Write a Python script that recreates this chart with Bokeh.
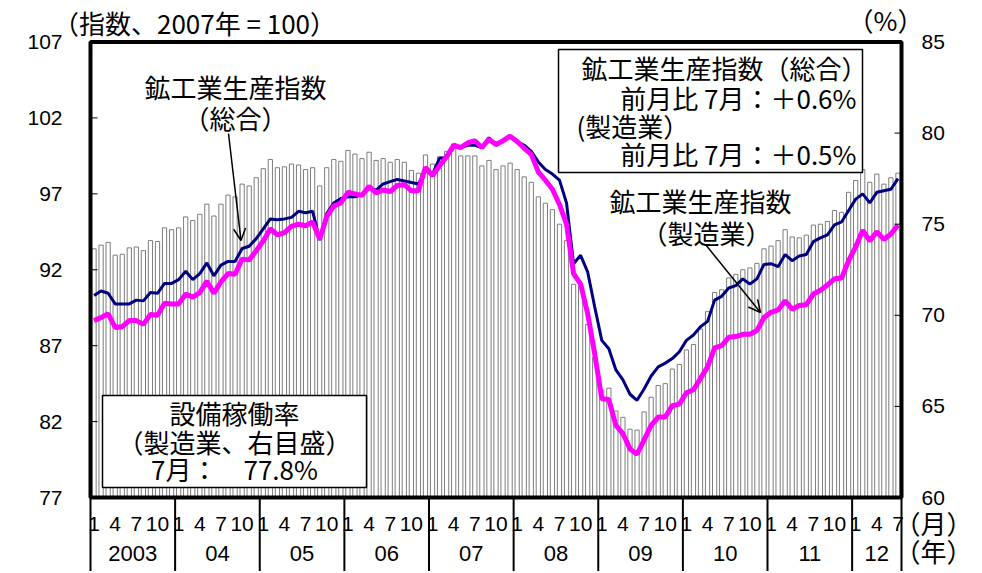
from bokeh.plotting import figure
from bokeh.models import Range1d, Label, BoxAnnotation, Arrow, OpenHead
from bokeh.core.properties import value
from bokeh.embed import file_html
from bokeh.resources import INLINE

# ---------------- data ----------------
year_labels = ["2003", "04", "05", "06", "07", "08", "09", "10", "11", "12"]
month_labels = ["1", "4", "7", "10"]

# 鉱工業生産指数（総合） 2007=100, monthly 2003/1 - 2012/7
total_index = [
    90.3, 90.6, 90.45, 89.75, 89.75, 89.75, 90.0, 89.95, 90.5, 90.45, 91.1, 91.1,
    91.35, 91.9, 91.35, 91.75, 92.45, 91.6, 92.3, 92.55, 92.55, 93.4, 93.55, 94.05,
    94.7, 95.35, 95.3, 95.35, 95.45, 95.85, 95.75, 95.85, 93.95, 95.7, 96.4, 96.7,
    96.8, 96.8, 96.95, 97.35, 97.25, 97.65, 97.8, 97.95, 97.85, 97.75, 97.65, 98.55,
    98.3, 99.35, 99.4, 100.05, 100.05, 100.2, 100.2, 100.05, 100.7, 100.2, 100.5, 100.8,
    100.45, 100.2, 99.8, 99.1, 98.6, 98.3, 97.9, 96.4, 92.4, 92.95, 91.85, 89.55,
    87.35, 86.8, 85.4, 84.75, 83.8, 83.4, 84.15, 85.0, 85.6, 85.85, 86.15, 86.6,
    87.35, 87.7, 88.25, 88.6, 90.0, 90.25, 90.8, 90.95, 91.4, 91.05, 91.4, 92.35,
    92.4, 92.2, 93.0, 92.6, 92.9, 93.0, 93.85, 94.1, 94.3, 94.95, 95.15, 95.9,
    96.65, 97.0, 96.4, 97.1, 97.2, 97.3, 98.0,
]

# 鉱工業生産指数（製造業）
mfg_index = [
    88.65, 88.85, 89.1, 88.2, 88.25, 88.65, 88.65, 88.4, 89.05, 89.0, 89.8, 89.75,
    89.75, 90.4, 90.2, 90.5, 91.25, 90.45, 91.2, 91.75, 91.7, 92.7, 92.65, 93.25,
    93.9, 94.7, 94.3, 94.45, 94.85, 95.0, 94.9, 95.15, 94.0, 95.5, 96.2, 96.4,
    97.1, 97.0, 96.9, 97.5, 97.05, 97.25, 97.15, 97.55, 97.6, 97.2, 97.2, 98.75,
    98.2, 98.85, 99.45, 100.2, 100.05, 100.35, 100.5, 100.05, 100.6, 100.25, 100.5, 100.8,
    100.45, 100.0, 99.6, 98.45, 97.9, 97.3, 96.3, 95.0, 91.75, 91.05, 89.1, 86.45,
    83.5, 83.45, 81.75, 81.2, 80.2, 79.85, 80.8, 81.75, 82.3, 82.3, 83.05, 83.15,
    83.9, 84.1, 84.85, 85.6, 86.85, 87.0, 87.55, 87.6, 87.75, 87.75, 88.0, 88.85,
    89.2, 89.35, 89.95, 89.4, 89.65, 89.7, 90.4, 90.65, 91.0, 91.4, 91.45, 92.6,
    93.5, 94.6, 93.9, 94.5, 94.0, 94.35, 94.95,
]

# 設備稼働率（製造業、%）
utilization = [
    73.65, 73.85, 74.0, 73.3, 73.35, 73.7, 73.75, 73.55, 74.1, 74.05, 74.8, 74.7,
    74.8, 75.4, 75.2, 75.55, 76.1, 75.45, 76.1, 76.6, 76.5, 77.2, 77.1, 77.55,
    78.05, 78.55, 78.1, 78.15, 78.3, 78.25, 78.0, 78.1, 77.1, 78.1, 78.55, 78.45,
    79.05, 78.85, 78.6, 78.95, 78.5, 78.6, 78.4, 78.55, 78.4, 77.95, 77.8, 78.8,
    78.3, 78.7, 79.0, 79.4, 78.75, 78.75, 78.75, 78.2, 78.5, 78.0, 78.2, 78.35,
    78.0, 77.6, 77.3, 76.5, 76.15, 75.8, 75.0, 74.1, 71.7, 71.6, 69.5, 67.7,
    65.9, 66.0, 64.75, 64.4, 63.75, 63.7, 64.7, 65.5, 66.15, 66.25, 67.05, 67.3,
    68.1, 68.4, 69.25, 70.2, 71.25, 71.4, 72.05, 72.25, 72.5, 72.6, 72.85, 73.65,
    73.8, 74.1, 74.7, 74.3, 74.25, 74.4, 74.95, 75.0, 75.15, 75.75, 75.65, 76.75,
    77.4, 78.0, 77.3, 77.75, 77.2, 77.55, 77.8,
]

left_ticks = [77, 82, 87, 92, 97, 102, 107]
right_ticks = [60, 65, 70, 75, 80, 85]

# ---------------- layout constants (canvas pixels) ----------------
W, H = 980, 571
BOX_L, BOX_R, BOX_T, BOX_B = 90.0, 901.0, 41.5, 497.0

n = len(total_index)
idx = list(range(n))
x0, x1 = -0.5, n - 0.5
yl0, yl1 = left_ticks[0], left_ticks[-1]
yr0, yr1 = right_ticks[0], right_ticks[-1]

px = (BOX_R - BOX_L) / (x1 - x0)        # pixels per month
py = (BOX_B - BOX_T) / (yl1 - yl0)      # pixels per left unit
pr = (BOX_B - BOX_T) / (yr1 - yr0)      # pixels per right unit

x_range = Range1d(x0 - BOX_L / px, x1 + (W - BOX_R) / px)
y_range = Range1d(yl0 - (H - BOX_B) / py, yl1 + BOX_T / py)
r_range = Range1d(yr0 - (H - BOX_B) / pr, yr1 + BOX_T / pr)

def dx(pix):   # pixel distance -> months
    return pix / px

def dy(pix):   # pixel distance -> left units
    return pix / py

def X(pix):    # canvas x pixel -> month coordinate
    return x0 + (pix - BOX_L) / px

def Y(pix):    # canvas y pixel -> left-scale value
    return yl1 - (pix - BOX_T) / py

# tick positions
month_ticks, month_text = [], []
for y in range(len(year_labels)):
    for m in month_labels:
        pos = 12 * y + int(m) - 1
        if pos < n:
            month_ticks.append(pos)
            month_text.append(m)

year_centers = [(12 * y + min(12 * y + 11, n - 1)) / 2 for y in range(len(year_labels))]
year_bounds = [12 * y - 0.5 for y in range(len(year_labels))] + [n - 0.5]

NUM_FONT = value("Liberation Sans")
JP = "Noto Sans CJK JP"

# ---------------- figure ----------------
p = figure(width=W, height=H, output_backend="svg", toolbar_location=None,
           x_range=x_range, y_range=y_range,
           x_axis_type=None, y_axis_type=None,
           min_border=0, min_border_left=0, min_border_right=0,
           min_border_top=0, min_border_bottom=0)
p.extra_y_ranges = {"right": r_range}
p.outline_line_color = None
p.background_fill_color = "white"
p.border_fill_color = "white"
p.xgrid.visible = False
p.ygrid.visible = False

# bars: utilization (right scale)
p.vbar(x=idx, top=utilization, bottom=yr0, width=0.6,
       y_range_name="right", fill_color="white", line_color="#7d7d7d",
       line_width=1)

# lines
p.line(idx, total_index, line_color="#000080", line_width=3)
p.line(idx, mfg_index, line_color="#FF00FF", line_width=5)

# axis ticks (inward)
p.segment(x0=[x0] * len(left_ticks), x1=[x0 + dx(7)] * len(left_ticks),
          y0=left_ticks, y1=left_ticks, line_color="black", line_width=1)
p.segment(x0=[x1 - dx(7)] * len(right_ticks), x1=[x1] * len(right_ticks),
          y0=right_ticks, y1=right_ticks, y_range_name="right",
          line_color="black", line_width=1)

# axis tick labels
p.text(x=[x0 - dx(28)] * len(left_ticks), y=left_ticks,
       text=[str(t) for t in left_ticks], text_font=NUM_FONT,
       text_font_size="21px", text_align="right", text_baseline="middle",
       text_color="black")
p.text(x=[x1 + dx(20)] * len(right_ticks), y=right_ticks,
       text=[str(t) for t in right_ticks], text_font=NUM_FONT,
       text_font_size="21px", text_align="left", text_baseline="middle",
       text_color="black", y_range_name="right")
p.text(x=month_ticks, y=[yl0 - dy(26)] * len(month_ticks), text=month_text,
       text_font=NUM_FONT, text_font_size="21px", text_align="center",
       text_baseline="middle", text_color="black")
p.text(x=year_centers, y=[yl0 - dy(56)] * len(year_centers), text=year_labels,
       text_font=NUM_FONT, text_font_size="22px", text_align="center",
       text_baseline="middle", text_color="black")

# year separators below the plot box
p.segment(x0=year_bounds, x1=year_bounds, y0=[yl0] * len(year_bounds),
          y1=[y_range.start] * len(year_bounds), line_color="black", line_width=2)

# ---------------- annotations ----------------
def lab(x, y, text, size="26px", align="center", font=JP):
    p.add_layout(Label(x=x, y=y, text=text, text_font=font,
                       text_font_size=size, text_align=align,
                       text_baseline="middle", text_color="black"))

def box(l, r, t, b):
    p.add_layout(BoxAnnotation(left=X(l), right=X(r), top=Y(t), bottom=Y(b),
                               fill_color="white", fill_alpha=1.0,
                               line_color="black", line_alpha=1.0,
                               line_width=1.5))

# axis titles
lab(X(194), Y(22), "（指数、2007年 = 100）", size="26px")
lab(X(885), Y(19), "（%）", size="26px")
lab(X(933), Y(522), "（月）", size="26px")
lab(X(933), Y(550), "（年）", size="26px")

# top-right box
box(558, 862, 49, 172)
lab(X(867), Y(67), "鉱工業生産指数（総合）", align="right")
lab(X(856), Y(97), "前月比 7月：＋0.6%", align="right")
lab(X(576), Y(125), "(製造業）", align="left")
lab(X(856), Y(153), "前月比 7月：＋0.5%", align="right")

# bottom-left box
box(102, 366, 395, 487)
lab(X(234), Y(412), "設備稼働率")
lab(X(234), Y(441), "（製造業、右目盛）")
lab(X(234), Y(468), "7月：　77.8%")

# line labels with arrows
lab(X(235), Y(86), "鉱工業生産指数")
lab(X(235), Y(117), "（総合）")
p.add_layout(Arrow(end=OpenHead(size=12, line_width=1.5), line_width=1.5,
                   x_start=X(228), y_start=Y(133), x_end=X(240.5), y_end=Y(240)))

lab(X(700), Y(200), "鉱工業生産指数")
lab(X(706), Y(232), "（製造業）")
p.add_layout(Arrow(end=OpenHead(size=12, line_width=1.5), line_width=1.5,
                   x_start=X(705), y_start=Y(244), x_end=X(760), y_end=Y(312)))

# plot box outline
p.add_layout(BoxAnnotation(left=x0, right=x1, top=yl1, bottom=yl0,
                           fill_color=None, fill_alpha=0.0,
                           line_color="black", line_alpha=1.0, line_width=4))

open("out.html", "w").write(file_html(p, INLINE))
